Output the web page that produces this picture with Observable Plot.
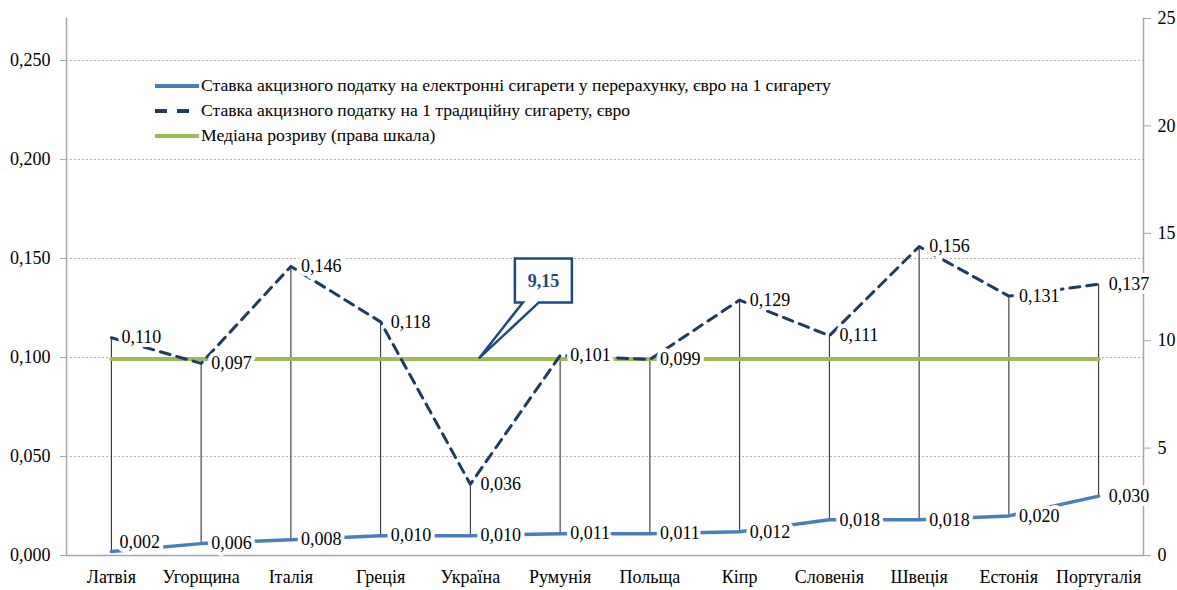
<!DOCTYPE html>
<html>
<head>
<meta charset="utf-8">
<script src="https://cdn.jsdelivr.net/npm/d3@7"></script>
<script src="https://cdn.jsdelivr.net/npm/@observablehq/plot@0.6"></script>
<style>
  html, body { margin: 0; padding: 0; background: #fff; }
  #wrap { position: relative; width: 1177px; height: 590px; }
  #legend { position: absolute; left: 155px; top: 73px; font-family: "Times New Roman", "Liberation Serif", "DejaVu Serif", serif; font-size: 17.6px; color: #000; }
  #legend .row { display: flex; align-items: center; height: 25px; white-space: nowrap; }
  #legend svg { margin-right: 2px; }
</style>
</head>
<body>
<div id="wrap"><div id="legend"></div></div>
<script>
const categories = ["Латвія", "Угорщина", "Італія", "Греція", "Україна", "Румунія", "Польща", "Кіпр", "Словенія", "Швеція", "Естонія", "Португалія"];
const ecigRate = [0.002, 0.006, 0.008, 0.010, 0.010, 0.011, 0.011, 0.012, 0.018, 0.018, 0.020, 0.030];
const tradRate = [0.110, 0.097, 0.146, 0.118, 0.036, 0.101, 0.099, 0.129, 0.111, 0.156, 0.131, 0.137];
const medianGap = 9.15;
const leftTicks = [0, 0.05, 0.10, 0.15, 0.20, 0.25];
const rightTicks = [0, 5, 10, 15, 20, 25];
const seriesNames = [
  "Ставка акцизного податку на електронні сигарети у перерахунку, євро на 1 сигарету",
  "Ставка акцизного податку на 1 традиційну сигарету, євро",
  "Медіана розриву (права шкала)"
];
const callout = "9,15";

const LEFT_MAX = 0.2712, RIGHT_MAX = 25;
const k = LEFT_MAX / RIGHT_MAX;
const rows = categories.map((c, i) => ({c, e: ecigRate[i], t: tradRate[i]}));
const medRows = categories.map(c => ({c, v: medianGap * k}));
const fmt = d => d3.format(".3f")(d).replace(".", ",");

const BLUE = "#4A7EBB", NAVY = "#1F3B5F", GREEN = "#9BBB59", AXIS = "#a6a6a6";
const font = "'Times New Roman', 'Liberation Serif', 'DejaVu Serif', serif";
const FS = 18;

const labelOpts = {textAnchor: "start", dx: 10, fill: "black", stroke: "white", strokeWidth: 8, paintOrder: "stroke", fontSize: FS, strokeLinejoin: "round"};

const plot = Plot.plot({
  width: 1177,
  height: 590,
  marginLeft: 66,
  marginRight: 34,
  marginTop: 18,
  marginBottom: 35,
  style: {fontFamily: font, fontSize: FS + "px", color: "black", background: "white"},
  x: {type: "point", domain: categories, padding: 0.5, round: false},
  y: {domain: [0, LEFT_MAX]},
  marks: [
    Plot.gridY(leftTicks.filter(d => d > 0), {stroke: "#b4b4b4", strokeOpacity: 1, strokeDasharray: "2,2"}),
    Plot.frame({anchor: "left", stroke: AXIS, strokeWidth: 1.5}),
    Plot.frame({anchor: "right", stroke: AXIS, strokeWidth: 1.5}),
    Plot.ruleY([0], {stroke: AXIS, strokeWidth: 1.5}),
    Plot.ruleX(rows, {x: "c", y1: "e", y2: "t", stroke: "#222", strokeWidth: 1}),
    Plot.lineY(medRows, {x: "c", y: "v", stroke: GREEN, strokeWidth: 4}),
    Plot.lineY(rows, {x: "c", y: "e", stroke: BLUE, strokeWidth: 3.5}),
    Plot.lineY(rows, {x: "c", y: "t", stroke: NAVY, strokeWidth: 3, strokeDasharray: "10,7"}),
    Plot.text(rows, {x: "c", y: "t", text: d => fmt(d.t), ...labelOpts}),
    Plot.text(rows.slice(0, 1), {x: "c", y: "e", text: d => fmt(d.e), ...labelOpts, dx: 8, dy: -9}),
    Plot.text(rows.slice(1), {x: "c", y: "e", text: d => fmt(d.e), ...labelOpts}),
    Plot.axisY(leftTicks, {anchor: "left", tickFormat: fmt, tickSize: 6, tickPadding: 10, stroke: AXIS, fill: "black", fontSize: FS, label: null}),
    Plot.axisY(rightTicks.map(v => v * k), {anchor: "right", tickFormat: d => String(Math.round(d / k)), tickSize: 7, tickPadding: 7, stroke: AXIS, fill: "black", fontSize: FS, label: null}),
    Plot.axisX({tickSize: 0, tickPadding: 15, fill: "black", fontSize: FS, label: null})
  ]
});

document.getElementById("wrap").prepend(plot);

// callout annotation anchored to the median line through the library's scales
const xs = plot.scale("x"), ys = plot.scale("y");
const tipX = xs.apply("Україна") + 9;
const tipY = ys.apply(medianGap * k);
const bx0 = tipX + 36, bx1 = tipX + 93, by0 = tipY - 100, by1 = tipY - 56;
const svg = d3.select(plot);
svg.append("path")
  .attr("d", `M${bx0},${by0} H${bx1} V${by1} H${bx0 + 24} L${tipX},${tipY} L${bx0 + 8},${by1} H${bx0} Z`)
  .attr("fill", "white").attr("stroke", "#1F497D").attr("stroke-width", 2.5).attr("stroke-linejoin", "miter");
svg.append("text")
  .attr("x", (bx0 + bx1) / 2).attr("y", (by0 + by1) / 2).attr("dy", "0.35em")
  .attr("text-anchor", "middle").attr("font-family", font).attr("font-size", FS).attr("font-weight", "bold")
  .attr("fill", "#1F497D").text(callout);

// legend
const legend = d3.select("#legend");
const swatches = [
  {stroke: BLUE, dash: null},
  {stroke: NAVY, dash: "12,10"},
  {stroke: GREEN, dash: null}
];
seriesNames.forEach((name, i) => {
  const row = legend.append("div").attr("class", "row");
  const s = row.append("svg").attr("width", 44).attr("height", 6);
  s.append("line").attr("x1", 0).attr("x2", 44).attr("y1", 3).attr("y2", 3)
    .attr("stroke", swatches[i].stroke).attr("stroke-width", 4)
    .attr("stroke-dasharray", swatches[i].dash);
  row.append("span").text(name);
});
</script>
</body>
</html>
